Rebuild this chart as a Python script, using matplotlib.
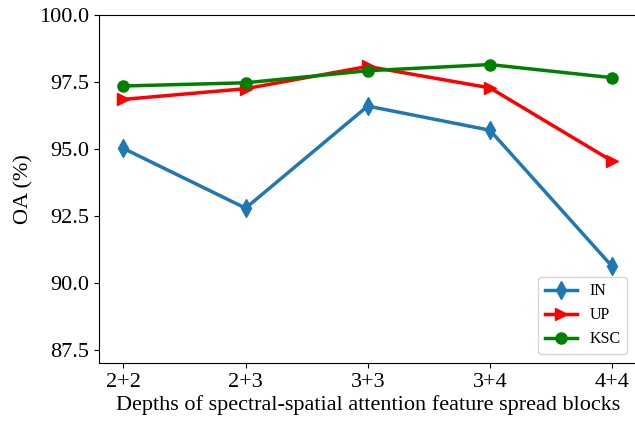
import matplotlib.pyplot as plt
import numpy as np

plt.rcParams['font.family'] = ['Liberation Serif', 'DejaVu Serif']

depths = ['2+2', '2+3', '3+3', '3+4', '4+4']
oa_in = [95.02, 92.79, 96.60, 95.70, 90.62]
oa_up = [96.85, 97.25, 98.08, 97.28, 94.55]
oa_ksc = [97.35, 97.47, 97.92, 98.15, 97.66]

fig = plt.figure(figsize=(6.35, 4.24), dpi=100)
ax = fig.add_axes([99 / 635, 1 - 363.3 / 424, 537.5 / 635, 348.3 / 424])

x = np.arange(len(depths))
ax.plot(x, oa_in, color='#1f77b4', marker='d', markersize=9, linewidth=2.5, label='IN')
ax.plot(x, oa_up, color='red', marker='>', markersize=9, linewidth=2.5, label='UP')
ax.plot(x, oa_ksc, color='green', marker='o', markersize=8, linewidth=2.5, label='KSC')

ax.set_ylim(87, 100)
ax.set_yticks([87.5, 90.0, 92.5, 95.0, 97.5, 100.0])
ax.set_xticks(x)
ax.set_xticklabels(depths)
ax.tick_params(labelsize=16)
ax.set_ylabel('OA (%)', fontsize=16)
ax.set_xlabel('Depths of spectral-spatial attention feature spread blocks', fontsize=16, labelpad=2)
ax.legend(loc='lower right', fontsize=11.5, borderaxespad=0.6)

fig.savefig('out.png', dpi=100)
